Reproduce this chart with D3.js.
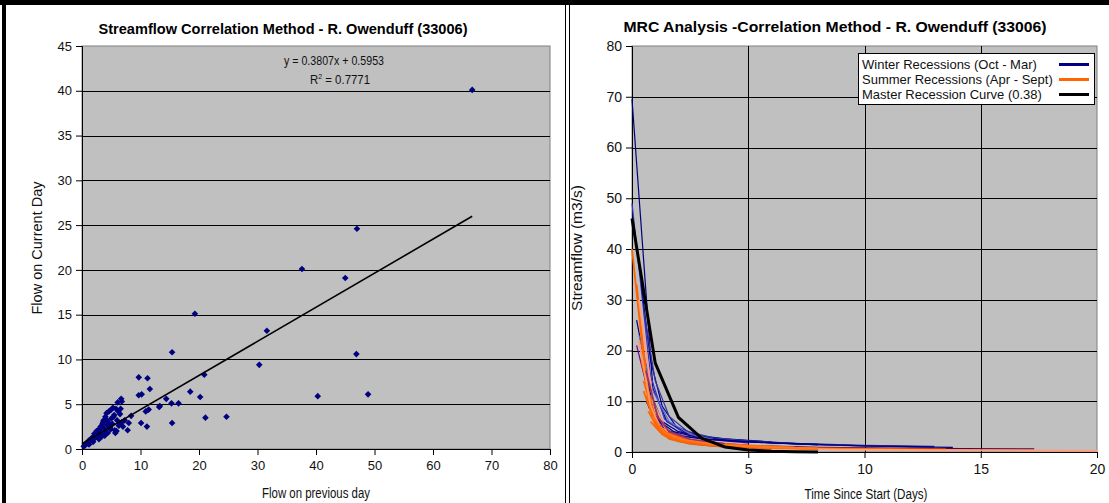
<!DOCTYPE html>
<html><head><meta charset="utf-8">
<script src="https://cdn.jsdelivr.net/npm/d3@7"></script>
<style>body{margin:0;background:#fff}svg{display:block;font-family:"Liberation Sans",Arial,sans-serif}</style>
</head><body>
<script>
// ---- Left chart data ----
const prevDay = [66.7,47.0,37.6,45.0,19.3,31.6,15.4,46.9,30.3,20.9,9.7,11.2,11.6,9.7,10.2,18.5,20.2,14.4,16.5,15.3,13.3,13.2,11.4,10.9,21.1,24.7,15.4,10.1,11.1,40.3,48.9,6.7,6.8,8.0,7.8,8.4,
 0.3,0.5,0.6,0.8,1.0,1.1,1.3,1.5,1.6,1.8,2.0,2.1,2.2,2.4,2.5,2.6,2.8,3.0,3.0,3.2,3.3,3.5,3.5,3.7,3.8,4.0,4.0,4.2,4.3,4.5,4.6,4.8,5.0,5.0,5.2,5.3,5.5,5.6,5.8,6.0,6.2,6.3,6.5,6.6,6.8,7.0,5.9,4.4,3.4,2.9,1.9,1.2,6.1,5.7,4.9,3.9,2.7,3.6,4.1,5.4,6.4,7.3];
const currDay = [40.1,24.6,20.1,19.1,15.1,13.2,10.8,10.6,9.4,8.3,8.0,7.9,6.7,6.0,6.1,6.4,5.8,5.6,5.1,5.1,4.8,4.7,4.4,4.2,3.5,3.6,2.9,2.9,2.5,5.9,6.1,5.6,5.3,2.9,2.1,3.7,
 0.3,0.4,0.5,0.6,0.7,0.9,0.8,1.0,1.2,1.1,1.4,1.7,1.2,1.5,2.0,1.8,1.4,2.2,1.7,2.5,1.9,2.8,1.6,3.2,2.3,3.6,2.0,4.0,2.7,3.0,4.2,2.4,4.4,3.4,2.8,4.6,3.8,2.1,4.5,3.2,4.2,2.6,3.9,4.5,3.0,2.5,2.0,1.8,1.4,1.1,0.8,0.5,5.2,1.8,2.2,1.5,2.1,3.0,3.3,3.6,2.8,3.2];
const trendSlope = 0.3807, trendIntercept = 0.5953, trendMaxX = 66.7;
const leftXTicks = [0,10,20,30,40,50,60,70,80];
const leftYTicks = [0,5,10,15,20,25,30,35,40,45];

// ---- Right chart data ----
const winterRecessions = [
 [[0,69.5],[0.9,12.5],[1.5,6],[2.5,3.3],[4,2.5],[6,1.9],[8,1.5],[10,1.2],[12,1.0],[13.8,0.9]],
 [[0,49],[0.8,15],[1.4,6.5],[2.3,3.5],[3.5,2.6],[5,2.0],[7,1.6],[9,1.3],[13,1.0]],
 [[0.2,26],[0.8,11.5],[1.3,6],[2,4],[3,3],[5,2.1],[8,1.4]],
 [[0.2,21],[0.9,8],[1.4,4.5],[2.2,3.2],[3.5,2.4],[5,1.8]],
 [[0.4,33],[0.8,18],[1.3,9],[1.9,5],[2.8,3.3],[4,2.6],[6,2]],
 [[0.5,28],[1.0,14],[1.6,7],[2.4,4],[3.5,2.8],[5,2.2],[7,1.7],[10,1.3],[13,1.1]],
 [[0.6,10],[1.2,5],[2,3],[3,2],[5,1.3],[8,0.9],[12,0.7],[17.3,0.6]],
 [[0.6,14],[1.2,6],[1.8,4],[2.7,3],[4,2.3],[6,1.8],[8,1.5]],
 [[0.3,23],[0.9,12],[1.6,6],[2.5,3.5],[3.5,2.5]],
 [[0.7,9],[1.3,4.5],[2,3.2],[3,2.6],[4.5,2.1],[7,1.6],[10,1.2],[13,1.0]]
];
const winterColors = ["#000080","#3333cc","#000080","#660099","#000080","#333399","#660033","#000080","#6666cc","#000080"];
const summerRecessions = [
 [[0,40],[0.6,14],[1.1,5],[1.8,2.8],[3,1.8],[5,1.1],[7,0.8],[10,0.6],[13.5,0.5]],
 [[0.2,33],[0.7,11],[1.2,4.2],[2,2.4],[3,1.5],[4.5,1.0],[6.5,0.7]],
 [[0.3,30],[0.9,10],[1.5,4],[2.5,2.1],[4,1.1],[6,0.7],[9,0.45],[13,0.35],[17,0.3],[20,0.25]],
 [[0.4,18],[0.9,8],[1.3,3.5],[2,2.1],[3,1.4],[4.5,0.9],[6,0.7]],
 [[0.5,14],[1,6],[1.4,3.2],[2.2,2],[3.5,1.2],[5,0.8]],
 [[0.6,11],[1.1,4.5],[1.6,2.6],[2.5,1.6],[4,1.0],[6,0.6]],
 [[0.7,8],[1.2,4],[1.7,2.6],[2.6,1.8],[4,1.2],[6,0.8],[8,0.6]],
 [[0.3,22],[0.8,9],[1.2,5],[1.8,3],[2.8,2],[4,1.4],[6,1]],
 [[0.8,6],[1.3,3.5],[2,2.2],[3,1.5],[4.5,1.1],[6,0.8],[8,0.6]],
 [[0.5,12],[1.0,5.5],[1.5,3.8],[2.3,2.5],[3.3,1.8],[5,1.3],[7,0.9]],
 [[0.6,16],[1.1,7],[1.6,4],[2.5,2.5],[4,1.6]],
 [[1.0,5],[1.5,3],[2.2,2.2],[3.2,1.6],[4.5,1.2],[6,0.9],[7.5,0.7]],
 [[0.9,7],[1.4,3.8],[2.1,2.5],[3.5,1.5],[5.5,1.0],[8,0.7]]
];
const summerColors = ["#ff6600","#ff6600","#ffa07a","#ff6600","#ff6600","#e0622a","#ff6600","#ff9966","#ff6600","#ff6600","#993366","#ff6600","#ff7722"];
const masterDays = [0,1,2,3,4,5,6,7,8];
const masterFlow = [46,17.5,6.8,2.7,1.0,0.4,0.15,0.06,0.02];
const rightXTicks = [0,5,10,15,20];
const rightYTicks = [0,10,20,30,40,50,60,70,80];
const legendLabels = ["Winter Recessions (Oct - Mar)","Summer Recessions (Apr - Sept)","Master Recession Curve (0.38)"];
const legendColors = ["#000080","#ff6600","#000000"];

const W = 1109, H = 503;
const FONT = '"Liberation Sans",Arial,sans-serif';
const svg = d3.select("body").append("svg").attr("width", W).attr("height", H);
svg.append("rect").attr("width", W).attr("height", H).attr("fill", "#fff");

// frame
svg.append("rect").attr("x",0).attr("y",0).attr("width",W).attr("height",5).attr("fill","#000");
svg.append("rect").attr("x",2).attr("y",0).attr("width",4).attr("height",H).attr("fill","#000");
svg.append("line").attr("x1",565.5).attr("x2",565.5).attr("y1",0).attr("y2",H).attr("stroke","#000");
svg.append("line").attr("x1",569.5).attr("x2",569.5).attr("y1",0).attr("y2",H).attr("stroke","#000");

function drawAxes(g, x, y, xTicks, yTicks, vGrid, fs) {
  const [x0, x1] = x.range(), [y0, y1] = y.range();
  g.append("rect").attr("x", x0).attr("y", y1).attr("width", x1 - x0).attr("height", y0 - y1)
    .attr("fill", "#c0c0c0").attr("stroke", "#808080");
  g.selectAll(".hg").data(yTicks.slice(1, -1)).enter().append("line")
    .attr("x1", x0).attr("x2", x1).attr("y1", d => Math.round(y(d)) + 0.5).attr("y2", d => Math.round(y(d)) + 0.5)
    .attr("stroke", "#000");
  if (vGrid) g.selectAll(".vg").data(xTicks.slice(1, -1)).enter().append("line")
    .attr("y1", y1).attr("y2", y0).attr("x1", d => Math.round(x(d)) + 0.5).attr("x2", d => Math.round(x(d)) + 0.5)
    .attr("stroke", "#000");
  const ax = g.append("g").attr("transform", `translate(0,${y0})`)
    .call(d3.axisBottom(x).tickValues(xTicks).tickSizeOuter(0).tickSize(6).tickPadding(6));
  const ay = g.append("g").attr("transform", `translate(${x0},0)`)
    .call(d3.axisLeft(y).tickValues(yTicks).tickSizeOuter(0).tickSize(6).tickPadding(4));
  [ax, ay].forEach(a => {
    a.select(".domain").attr("stroke", "#000");
    a.selectAll(".tick line").attr("stroke", "#000");
    a.selectAll("text").attr("font-size", fs).attr("fill", "#111").attr("font-family", FONT);
  });
}

function label(g, x, y, txt, fs, len, opts = {}) {
  const t = g.append("text").attr("x", x).attr("y", y).attr("text-anchor", "middle")
    .attr("font-size", fs).attr("fill", "#111").text(txt);
  if (len) t.attr("textLength", len).attr("lengthAdjust", "spacingAndGlyphs");
  if (opts.bold) t.attr("font-weight", "bold").attr("fill", "#000");
  if (opts.rotate) t.attr("transform", `rotate(-90,${x},${y})`);
  return t;
}

// ---- Left chart ----
const lx = d3.scaleLinear().domain([0, 80]).range([82, 550]);
const ly = d3.scaleLinear().domain([0, 45]).range([449, 46]);
const gl = svg.append("g");
drawAxes(gl, lx, ly, leftXTicks, leftYTicks, false, 13);
const diamond = d3.symbol().type(d3.symbolSquare).size(22);
gl.selectAll(".pt").data(prevDay.map((v, i) => [v, currDay[i]])).enter().append("path")
  .attr("d", diamond).attr("fill", "#000080")
  .attr("transform", d => `translate(${lx(d[0])},${ly(d[1])}) rotate(45)`);
gl.append("line").attr("x1", lx(0)).attr("y1", ly(trendIntercept))
  .attr("x2", lx(trendMaxX)).attr("y2", ly(trendSlope * trendMaxX + trendIntercept))
  .attr("stroke", "#000").attr("stroke-width", 1.6);
label(gl, 283, 34, "Streamflow Correlation Method - R. Owenduff (33006)", 14, 369, {bold: true});
label(gl, 334, 65, `y = ${trendSlope}x + ${trendIntercept}`, 13, 100);
const r2 = gl.append("text").attr("x", 340).attr("y", 84).attr("text-anchor", "middle").attr("font-size", 13).attr("fill","#111")
  .attr("textLength", 60).attr("lengthAdjust", "spacingAndGlyphs");
r2.append("tspan").text("R");
r2.append("tspan").attr("dy", -5).attr("font-size", 8).text("2");
r2.append("tspan").attr("dy", 5).text(" = 0.7771");
label(gl, 316, 498, "Flow on previous day", 14, 108);
label(gl, 42, 248, "Flow on Current Day", 14.5, null, {rotate: true});

// ---- Right chart ----
const rx = d3.scaleLinear().domain([0, 20]).range([632, 1097]);
const ry = d3.scaleLinear().domain([0, 80]).range([452, 46]);
const gr = svg.append("g");
drawAxes(gr, rx, ry, rightXTicks, rightYTicks, true, 14);
const line = d3.line().x(d => rx(d[0])).y(d => ry(d[1]));
gr.selectAll(".w").data(winterRecessions).enter().append("path")
  .attr("d", line).attr("fill", "none").attr("stroke", (d, i) => winterColors[i]).attr("stroke-width", 1.2);
gr.selectAll(".s").data(summerRecessions).enter().append("path")
  .attr("d", line).attr("fill", "none").attr("stroke", (d, i) => summerColors[i]).attr("stroke-width", 1.8);
gr.append("path").datum(masterDays.map((d, i) => [d, masterFlow[i]])).attr("d", line)
  .attr("fill", "none").attr("stroke", "#000").attr("stroke-width", 3);
label(gr, 835, 32, "MRC Analysis -Correlation Method - R. Owenduff (33006)", 15, 423, {bold: true});
label(gr, 866, 499, "Time Since Start (Days)", 14, 123);
label(gr, 582, 248, "Streamflow (m3/s)", 15.5, null, {rotate: true});
// legend
const lg = gr.append("g");
lg.append("rect").attr("x", 858.5).attr("y", 53.5).attr("width", 236).attr("height", 51)
  .attr("fill", "#fff").attr("stroke", "#000");
legendLabels.forEach((t, i) => {
  lg.append("text").attr("x", 862).attr("y", 69 + i * 15).attr("font-size", 13).attr("fill","#111").text(t);
  lg.append("line").attr("x1", 1059).attr("x2", 1089).attr("y1", 64.5 + i * 15).attr("y2", 64.5 + i * 15)
    .attr("stroke", legendColors[i]).attr("stroke-width", 3);
});
</script>
</body></html>
